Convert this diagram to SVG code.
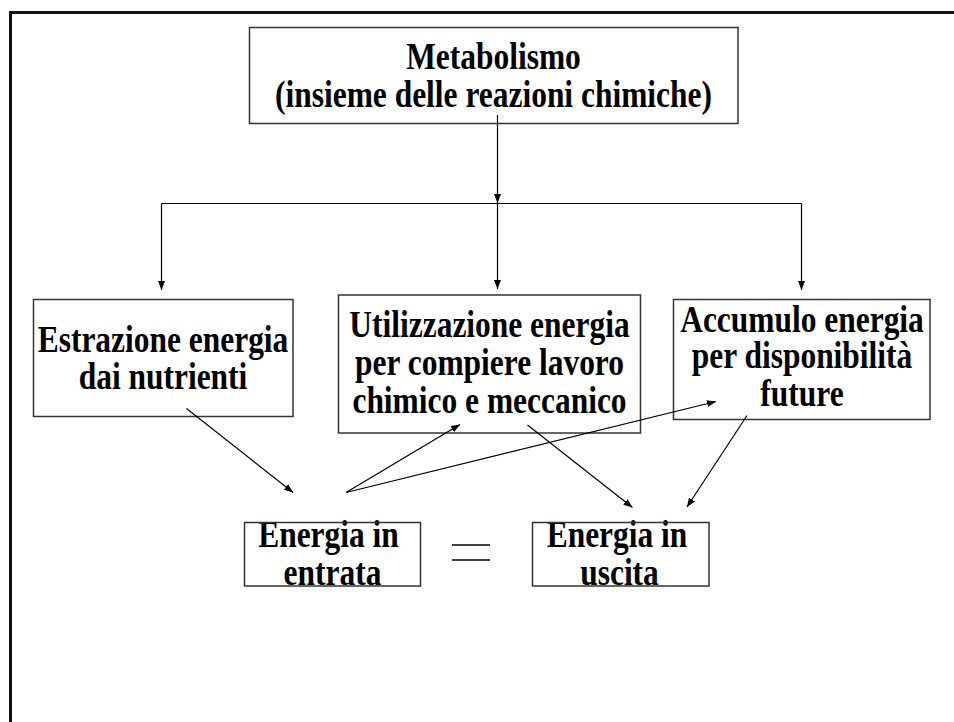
<svg xmlns="http://www.w3.org/2000/svg" width="954" height="722" viewBox="0 0 954 722">
  <style>
    .box { fill: #fff; stroke: #333; stroke-width: 1.5; }
    .t { font-family: "Liberation Serif", "Times New Roman", serif; font-weight: bold; font-size: 37px; text-anchor: middle; fill: #000; }
    .ln { fill: none; stroke: #000; stroke-width: 1.2; }
    .arr { fill: none; stroke: #000; stroke-width: 1.2; marker-end: url(#head); }
  </style>
  <defs>
    <marker id="head" markerWidth="9" markerHeight="7" refX="9" refY="3.5" orient="auto" markerUnits="userSpaceOnUse">
      <path d="M0,0 L9,3.5 L0,7 z" fill="#000"/>
    </marker>
  </defs>

  <rect width="954" height="722" fill="#fff"/>
  <!-- page frame -->
  <path d="M10.5 722 V12.5 H954" fill="none" stroke="#111" stroke-width="3"/>

  <g id="metabolismo">
    <rect class="box" x="249.5" y="27.5" width="488.5" height="96"/>
    <text class="t" transform="translate(493.5 69) scale(0.85 1)">Metabolismo</text>
    <text class="t" transform="translate(493.5 107) scale(0.85 1)">(insieme delle reazioni chimiche)</text>
  </g>

  <g id="estrazione">
    <rect class="box" x="33.5" y="299.5" width="259.5" height="117"/>
    <text class="t" transform="translate(163 351.5) scale(0.85 1)">Estrazione energia</text>
    <text class="t" transform="translate(163 389) scale(0.85 1)">dai nutrienti</text>
  </g>

  <g id="utilizzazione">
    <rect class="box" x="338.5" y="295" width="302" height="138"/>
    <text class="t" transform="translate(489.5 337) scale(0.85 1)">Utilizzazione energia</text>
    <text class="t" transform="translate(489.5 375) scale(0.85 1)">per compiere lavoro</text>
    <text class="t" transform="translate(489.5 413) scale(0.85 1)">chimico e meccanico</text>
  </g>

  <g id="accumulo">
    <rect class="box" x="673.5" y="299.5" width="256.5" height="120"/>
    <text class="t" transform="translate(802 331.5) scale(0.85 1)">Accumulo energia</text>
    <text class="t" transform="translate(802 368) scale(0.85 1)">per disponibilità</text>
    <text class="t" transform="translate(802 405.5) scale(0.85 1)">future</text>
  </g>

  <g id="entrata">
    <text class="t" transform="translate(328.5 547) scale(0.85 1)">Energia in</text>
    <text class="t" transform="translate(332.5 585) scale(0.85 1)">entrata</text>
    <rect class="box" x="244.5" y="522.5" width="176" height="63.5" fill="none" style="fill:none"/>
  </g>

  <g id="uguale">
    <line x1="452" y1="545" x2="490" y2="545" stroke="#000" stroke-width="1.5"/>
    <line x1="452" y1="560" x2="490" y2="560" stroke="#000" stroke-width="1.5"/>
  </g>

  <g id="uscita">
    <text class="t" transform="translate(617 547) scale(0.85 1)">Energia in</text>
    <text class="t" transform="translate(619.5 585) scale(0.85 1)">uscita</text>
    <rect class="box" x="532.5" y="522.5" width="176.5" height="63.5" style="fill:none"/>
  </g>

  <g id="connectors">
    <line class="arr" x1="497.5" y1="115" x2="497.5" y2="203"/>
    <line class="ln" x1="161.5" y1="203.5" x2="801.5" y2="203.5" stroke-width="2"/>
    <line class="arr" x1="161.5" y1="203.5" x2="161.5" y2="290"/>
    <line class="arr" x1="497.5" y1="203.5" x2="497.5" y2="289"/>
    <line class="arr" x1="801.5" y1="203.5" x2="801.5" y2="290"/>

    <line class="arr" x1="186.5" y1="408.5" x2="293" y2="492.5"/>
    <line class="arr" x1="346" y1="492.5" x2="460" y2="424.5"/>
    <line class="arr" x1="346" y1="492.5" x2="716" y2="401.5"/>
    <line class="arr" x1="527.5" y1="425" x2="632.5" y2="507.5"/>
    <line class="arr" x1="747" y1="415.5" x2="687" y2="507"/>
  </g>
</svg>
